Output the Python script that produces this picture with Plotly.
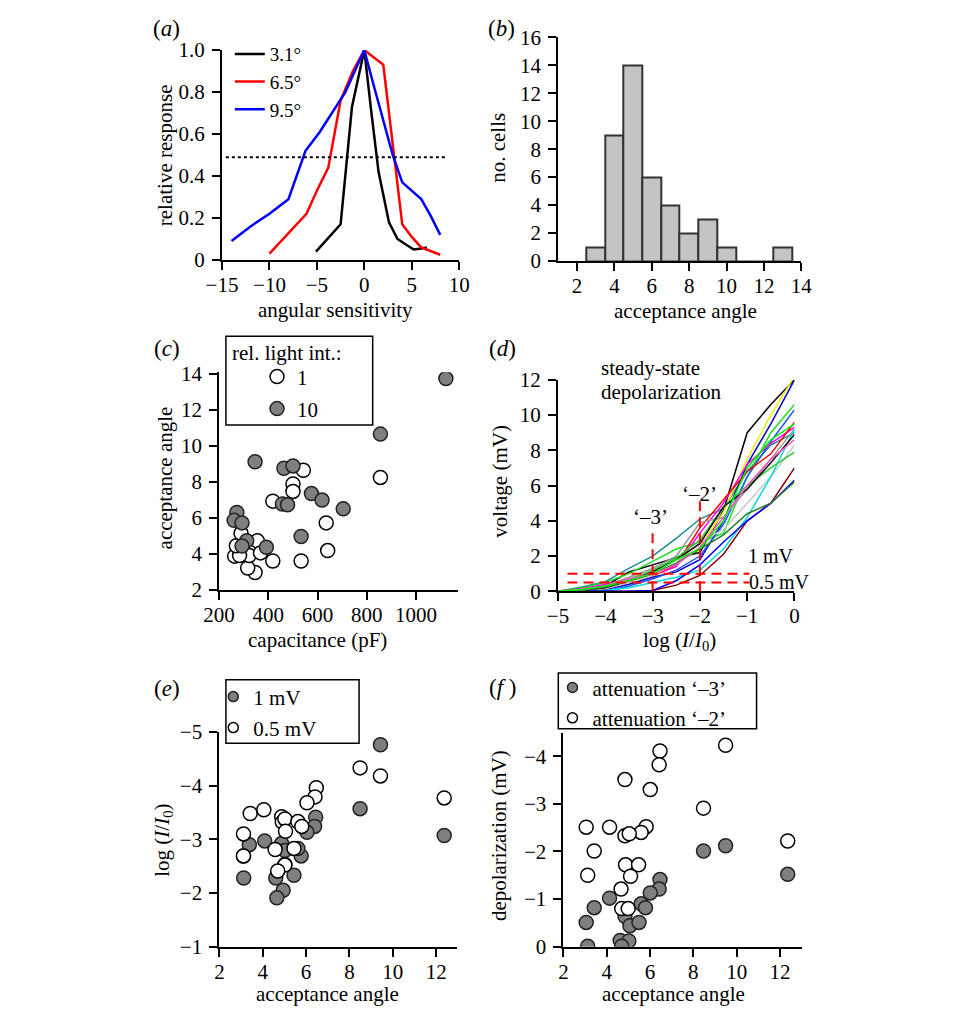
import plotly.graph_objects as go

W, H = 960, 1017
def fx(p): return p / W
def fy(p): return 1 - p / H

FONT = "'Liberation Serif', 'Times New Roman', Times, serif"
FS = 21

# ---------- (a) angular sensitivity ----------
a_x_31 = [-5.1, -2.5, -1.3, -0.4, 0, 0.7, 1.5, 2.6, 3.5, 4.5, 5.2, 6.0, 6.6]
a_y_31 = [0.04, 0.17, 0.73, 0.92, 1.0, 0.72, 0.42, 0.18, 0.10, 0.07, 0.05, 0.055, 0.06]
a_x_65 = [-10, -8, -6.1, -5, -3.8, -2.5, -1.2, 0, 2, 4, 5, 6, 8]
a_y_65 = [0.03, 0.13, 0.22, 0.33, 0.44, 0.76, 0.90, 1.0, 0.93, 0.17, 0.11, 0.06, 0.025]
a_x_95 = [-14, -12, -10, -8, -6.2, -4.7, -2, 0, 1, 2, 3, 4, 5, 6, 7, 8]
a_y_95 = [0.09, 0.16, 0.22, 0.29, 0.52, 0.61, 0.80, 1.0, 0.83, 0.66, 0.50, 0.37, 0.33, 0.29, 0.21, 0.12]
a_half_x = [-14.6, 8.8]
a_half_y = [0.49, 0.49]

# ---------- (b) histogram ----------
b_centers = [3, 4, 5, 6, 7, 8, 9, 10, 11, 12, 13]
b_counts = [1, 9, 14, 6, 4, 2, 3, 1, 0, 0, 1]

# ---------- (c) capacitance vs acceptance angle ----------
c_cap_1 = [855, 542, 500, 500, 418, 635, 641, 533, 418, 346, 316, 322, 263, 283, 270, 289, 355, 368]
c_ang_1 = [8.25, 8.65, 7.89, 7.47, 6.93, 5.72, 4.18, 3.60, 3.60, 2.96, 3.21, 3.90, 3.87, 3.90, 4.45, 5.14, 4.72, 4.05]
c_cap_10 = [1121, 855, 346, 463, 500, 575, 618, 704, 457, 478, 533, 272, 261, 293, 312, 293, 392]
c_ang_10 = [13.75, 10.66, 9.12, 8.76, 8.89, 7.35, 6.99, 6.50, 6.77, 6.73, 4.96, 6.30, 5.86, 5.72, 4.72, 4.43, 4.36]

# ---------- (d) steady-state depolarization ----------
d_log = [-5, -4.5, -4, -3.5, -3, -2.5, -2, -1.5, -1, -0.5, 0]
d_black1 = [0, 0.05, 0.3, 1.1, 1.5, 1.9, 2.2, 4.6, 9.0, 10.6, 12.0]
d_teal = [0, 0.25, 0.55, 1.3, 2.0, 3.0, 4.1, 4.7, 6.8, 8.3, 9.0]
d_green1 = [0, 0.2, 0.5, 1.0, 1.7, 2.4, 2.8, 3.3, 6.5, 9.0, 10.6]
d_yellow = [0, 0.05, 0.2, 0.5, 0.8, 1.5, 2.5, 4.5, 7.5, 10.0, 12.2]
d_navy = [0, 0, 0.1, 0.4, 0.8, 1.1, 1.8, 4.0, 7.2, 9.5, 12.0]
d_blue2 = [0, 0, 0, 0.3, 0.7, 1.2, 2.0, 3.8, 6.5, 8.5, 10.3]
d_magenta = [0, 0.15, 0.4, 0.7, 0.9, 1.4, 3.3, 5.0, 7.2, 8.4, 9.3]
d_red = [0, 0.1, 0.3, 0.6, 0.9, 1.5, 3.6, 5.2, 6.8, 7.8, 9.6]
d_gray = [0, 0.1, 0.3, 0.8, 1.3, 2.0, 3.9, 4.2, 5.8, 7.5, 9.2]
d_lightgray = [0, 0.05, 0.15, 0.5, 0.9, 1.6, 2.8, 3.5, 5.0, 6.5, 8.3]
d_cyan = [0, 0, 0.05, 0.2, 0.5, 0.8, 1.2, 2.4, 4.2, 6.5, 9.2]
d_darkred = [0, 0, 0, 0, 0.05, 0.35, 0.9, 2.1, 4.0, 5.0, 7.0]
d_blue3 = [0, 0, 0, 0, 0.05, 0.6, 1.5, 2.8, 4.0, 5.0, 6.3]
d_green2 = [0, 0.1, 0.3, 0.7, 1.2, 1.9, 2.9, 4.8, 6.0, 7.0, 7.9]
d_black2 = [0, 0.05, 0.2, 0.6, 1.1, 1.8, 2.7, 4.8, 5.8, 7.3, 8.9]
d_darkgreen = [0, 0.05, 0.25, 0.6, 1.0, 1.6, 2.4, 3.2, 4.4, 5.0, 6.2]
d_pink = [0, 0.1, 0.3, 0.7, 1.0, 1.5, 2.5, 4.2, 6.0, 7.5, 8.6]
d_green3 = [0, 0.1, 0.3, 0.6, 1.0, 1.8, 2.4, 4.0, 7.0, 8.6, 9.5]
d_curves = [d_black1, d_teal, d_green1, d_yellow, d_navy, d_blue2, d_magenta, d_red,
            d_gray, d_lightgray, d_cyan, d_darkred, d_blue3, d_green2, d_black2,
            d_darkgreen, d_pink, d_green3]
d_colors = ["#000000", "#1a8c8c", "#22dd22", "#eeee00", "#0000cc", "#2255ff", "#ff00ff",
            "#ff0000", "#999999", "#c8c8c8", "#00dddd", "#8b0000", "#0000ff", "#33cc33",
            "#111111", "#2e7d32", "#ff55cc", "#00ee00"]
d_levels = [1.0, 0.5]
d_level_x = [-4.8, -0.95]
d_atten = [-3, -2]
d_atten_top = [3.5, 5.2]

# ---------- (e) threshold log(I/I0) vs acceptance angle ----------
e_ang_1mV = [9.43, 8.49, 12.37, 6.44, 6.39, 6.04, 3.38, 4.09, 3.11, 3.12, 4.87, 5.02, 5.77, 5.62, 5.02, 4.60, 5.44, 4.94, 4.65]
e_log_1mV = [-4.76, -3.57, -3.07, -3.41, -3.24, -3.13, -2.90, -2.97, -2.69, -2.28, -2.92, -2.79, -2.69, -2.83, -2.53, -2.28, -2.33, -2.05, -1.91]
e_ang_05mV = [12.37, 9.43, 8.49, 6.47, 6.41, 6.04, 3.42, 4.05, 3.11, 3.11, 4.87, 4.90, 5.02, 5.05, 5.62, 5.80, 4.57, 5.44, 5.02, 4.69]
e_log_05mV = [-3.77, -4.18, -4.33, -3.96, -3.79, -3.68, -3.48, -3.55, -3.10, -2.69, -3.42, -3.32, -3.38, -3.15, -3.33, -3.24, -2.81, -2.83, -2.52, -2.41]

# ---------- (f) depolarization vs acceptance angle ----------
f_ang_m3 = [8.47, 9.49, 12.36, 6.46, 6.42, 6.01, 5.59, 5.79, 4.13, 3.42, 3.05, 3.12, 4.84, 5.07, 5.49, 4.62, 5.02, 4.69]
f_dep_m3 = [-2.01, -2.12, -1.52, -1.41, -1.21, -1.13, -0.90, -0.82, -1.02, -0.82, -0.51, -0.01, -0.64, -0.44, -0.51, -0.13, -0.12, -0.01]
f_ang_m2 = [9.49, 6.46, 6.42, 6.01, 4.84, 8.47, 12.36, 3.05, 4.13, 5.82, 5.59, 4.84, 5.04, 3.42, 4.87, 5.47, 5.10, 3.12, 4.66, 4.69, 4.99]
f_dep_m2 = [-4.23, -4.11, -3.82, -3.30, -3.51, -2.91, -2.22, -2.51, -2.51, -2.52, -2.40, -2.33, -2.37, -2.01, -1.72, -1.72, -1.48, -1.50, -1.21, -0.80, -0.80]

fig = go.Figure()

# (a)
fig.add_trace(go.Scatter(x=a_x_31, y=a_y_31, mode="lines", name="3.1°",
                         line=dict(color="black", width=2.5), xaxis="x", yaxis="y", legend="legend"))
fig.add_trace(go.Scatter(x=a_x_65, y=a_y_65, mode="lines", name="6.5°",
                         line=dict(color="#ff0000", width=2.5), xaxis="x", yaxis="y", legend="legend"))
fig.add_trace(go.Scatter(x=a_x_95, y=a_y_95, mode="lines", name="9.5°",
                         line=dict(color="#0000ff", width=2.5), xaxis="x", yaxis="y", legend="legend"))
fig.add_trace(go.Scatter(x=a_half_x, y=a_half_y, mode="lines", showlegend=False,
                         line=dict(color="black", width=2, dash="dot"), xaxis="x", yaxis="y"))

# (b)
fig.add_trace(go.Bar(x=b_centers, y=b_counts, width=1, showlegend=False,
                     marker=dict(color="#c4c4c4", line=dict(color="#333333", width=2)),
                     xaxis="x2", yaxis="y2"))

# (c)
mk_open = dict(size=14, color="white", line=dict(color="black", width=1.5))
mk_fill = dict(size=14, color="#7f7f7f", line=dict(color="#222222", width=1.5))
mk_open_s = dict(size=10, color="white", line=dict(color="black", width=1.5))
mk_fill_s = dict(size=10, color="#7f7f7f", line=dict(color="#222222", width=1.5))
fig.add_trace(go.Scatter(x=c_cap_1, y=c_ang_1, mode="markers", name="1", marker=mk_open,
                         xaxis="x3", yaxis="y3", legend="legend2", legendgroup="c1"))
fig.add_trace(go.Scatter(x=c_cap_10, y=c_ang_10, mode="markers", name="10", marker=mk_fill,
                         xaxis="x3", yaxis="y3", legend="legend2", legendgroup="c10"))

# (d)
for yv, col in zip(d_curves, d_colors):
    fig.add_trace(go.Scatter(x=d_log, y=yv, mode="lines", showlegend=False,
                             line=dict(color=col, width=1.5), xaxis="x4", yaxis="y4"))
for lv in d_levels:
    fig.add_trace(go.Scatter(x=d_level_x, y=[lv, lv], mode="lines", showlegend=False,
                             line=dict(color="#ff0000", width=2, dash="10px,6px"),
                             xaxis="x4", yaxis="y4"))
for ax, top in zip(d_atten, d_atten_top):
    fig.add_trace(go.Scatter(x=[ax, ax], y=[0, top], mode="lines", showlegend=False,
                             line=dict(color="#ff0000", width=2, dash="10px,6px"),
                             xaxis="x4", yaxis="y4"))

# (e)
fig.add_trace(go.Scatter(x=e_ang_1mV, y=e_log_1mV, mode="markers", showlegend=False, marker=mk_fill,
                         xaxis="x5", yaxis="y5"))
fig.add_trace(go.Scatter(x=e_ang_05mV, y=e_log_05mV, mode="markers", showlegend=False, marker=mk_open,
                         xaxis="x5", yaxis="y5"))
fig.add_trace(go.Scatter(x=[None], y=[None], mode="markers", name="1 mV", marker=mk_fill_s,
                         xaxis="x5", yaxis="y5", legend="legend3", legendgroup="e1"))
fig.add_trace(go.Scatter(x=[None], y=[None], mode="markers", name="0.5 mV", marker=mk_open_s,
                         xaxis="x5", yaxis="y5", legend="legend3", legendgroup="e2"))

# (f)
fig.add_trace(go.Scatter(x=f_ang_m3, y=f_dep_m3, mode="markers", showlegend=False, marker=mk_fill,
                         xaxis="x6", yaxis="y6"))
fig.add_trace(go.Scatter(x=f_ang_m2, y=f_dep_m2, mode="markers", showlegend=False, marker=mk_open,
                         xaxis="x6", yaxis="y6"))
fig.add_trace(go.Scatter(x=[None], y=[None], mode="markers", name="attenuation ‘–3’", marker=mk_fill_s,
                         xaxis="x6", yaxis="y6", legend="legend4", legendgroup="f1"))
fig.add_trace(go.Scatter(x=[None], y=[None], mode="markers", name="attenuation ‘–2’", marker=mk_open_s,
                         xaxis="x6", yaxis="y6", legend="legend4", legendgroup="f2"))

tickfont = dict(family=FONT, size=FS, color="black")
def axis(domain, rng, tickvals, ticktext=None, anchor=None, standoff=0):
    d = dict(domain=domain, range=rng, tickvals=tickvals, showline=True, linecolor="black",
             linewidth=2, ticks="outside", ticklen=8, tickwidth=2, tickcolor="black",
             showgrid=False, zeroline=False, tickfont=tickfont, anchor=anchor, fixedrange=True,
             ticklabelstandoff=standoff)
    if ticktext is not None:
        d["ticktext"] = ticktext
    return d

def xax(domain, rng, tickvals, anchor):
    return axis(domain, rng, tickvals, anchor=anchor, standoff=-3)

def yax(domain, rng, tickvals, anchor, ticktext=None):
    return axis(domain, rng, tickvals, ticktext, anchor=anchor, standoff=3)

def leg(x, y, gap=0, size=FS):
    return dict(x=fx(x), y=fy(y), xanchor="left", yanchor="top", bgcolor="rgba(0,0,0,0)",
                borderwidth=0, font=dict(family=FONT, size=size, color="black"),
                tracegroupgap=gap, itemwidth=30)

fig.update_layout(
    width=W, height=H, margin=dict(l=0, r=0, t=0, b=0),
    paper_bgcolor="white", plot_bgcolor="white",
    font=dict(family=FONT, size=FS, color="black"),
    bargap=0,
    xaxis=xax([fx(212), fx(456)], [-15, 10], [-15, -10, -5, 0, 5, 10], "y"),
    yaxis=yax([fy(254), fy(39)], [0, 1.0], [0, 0.2, 0.4, 0.6, 0.8, 1.0], "x",
              ["0", "0.2", "0.4", "0.6", "0.8", "1.0"]),
    xaxis2=xax([fx(558), fx(808)], [1, 14], [2, 4, 6, 8, 10, 12, 14], "y2"),
    yaxis2=yax([fy(255), fy(26)], [0, 16], [0, 2, 4, 6, 8, 10, 12, 14, 16], "x2"),
    xaxis3=xax([fx(209), fx(455)], [200, 1171], [200, 400, 600, 800, 1000], "y3"),
    yaxis3=yax([fy(591.7), fy(369)], [2, 14.1], [2, 4, 6, 8, 10, 12, 14], "x3"),
    xaxis4=xax([fx(557.7), fx(801)], [-5, 0], [-5, -4, -3, -2, -1, 0], "y4"),
    yaxis4=yax([fy(593.3), fy(376.7)], [0, 12], [0, 2, 4, 6, 8, 10, 12], "x4"),
    xaxis5=xax([fx(209.3), fx(453.3)], [2, 12.94], [2, 4, 6, 8, 10, 12], "y5"),
    yaxis5=yax([fy(957.3), fy(737.3)], [-1, -5], [-1, -2, -3, -4, -5], "x5"),
    xaxis6=xax([fx(563.3), fx(808.3)], [2, 13], [2, 4, 6, 8, 10, 12], "y6"),
    yaxis6=yax([fy(957.3), fy(738.3)], [0, -4.49], [0, -1, -2, -3, -4], "x6",
               ["0", "−1", "−2", "−3", "−4"]),
    legend=leg(220, 23.6, 0, 19),
    legend2=leg(248, 352.8, 1.7),
    legend3=leg(203, 680.5, 0.7),
    legend4=leg(552, 671.2, 0),
)

box = dict(type="rect", xref="paper", yref="paper", line=dict(color="black", width=1.5),
           fillcolor="rgba(0,0,0,0)")
fig.add_shape(**box, x0=fx(216), x1=fx(367), y0=fy(423), y1=fy(332))
fig.add_shape(**box, x0=fx(216), x1=fx(353), y0=fy(749), y1=fy(684))
fig.add_shape(**box, x0=fx(558), x1=fx(762), y0=fy(734), y1=fy(677))

def ann(text, x, y, size=FS, angle=0, xanchor="center", yanchor="middle", align="center"):
    fig.add_annotation(text=text, x=fx(x), y=fy(y), xref="paper", yref="paper",
                       showarrow=False, textangle=angle, xanchor=xanchor, yanchor=yanchor,
                       align=align, font=dict(family=FONT, size=size, color="black"))

# panel letters
ann("(<i>a</i>)", 155, 17, 23)
ann("(<i>b</i>)", 500, 17, 23)
ann("(<i>c</i>)", 155, 345, 23)
ann("(<i>d</i>)", 501, 345, 23)
ann("(<i>e</i>)", 155, 693, 23)
ann("(<i>f</i> )", 501, 692, 23)

# axis titles
ann("angular sensitivity", 329, 305)
ann("relative response", 153, 147, angle=-90)
ann("acceptance angle", 689, 306)
ann("no. cells", 496, 139, angle=-90)
ann("capacitance (pF)", 310, 643)
ann("acceptance angle", 153, 477, angle=-90)
ann("log (<i>I</i>/<i>I</i><sub>0</sub>)", 683, 644)
ann("voltage (mV)", 498, 480, angle=-90)
ann("acceptance angle", 321, 1006)
ann("log (<i>I</i>/<i>I</i><sub>0</sub>)", 151, 848, angle=-90)
ann("acceptance angle", 677, 1006)
ann("depolarization (mV)", 497, 844, angle=-90)

# legend title for (c)
ann("rel. light int.:", 220, 349, xanchor="left")

# (d) texts
ann("steady-state", 600, 365, xanchor="left")
ann("depolarization", 600, 389, xanchor="left")
ann("‘–3’", 653, 517)
ann("‘–2’", 703, 494)
ann("1 mV", 803, 557, size=20, xanchor="right")
ann("0.5 mV", 819, 584, size=20, xanchor="right")

fig.write_html("out.html")
